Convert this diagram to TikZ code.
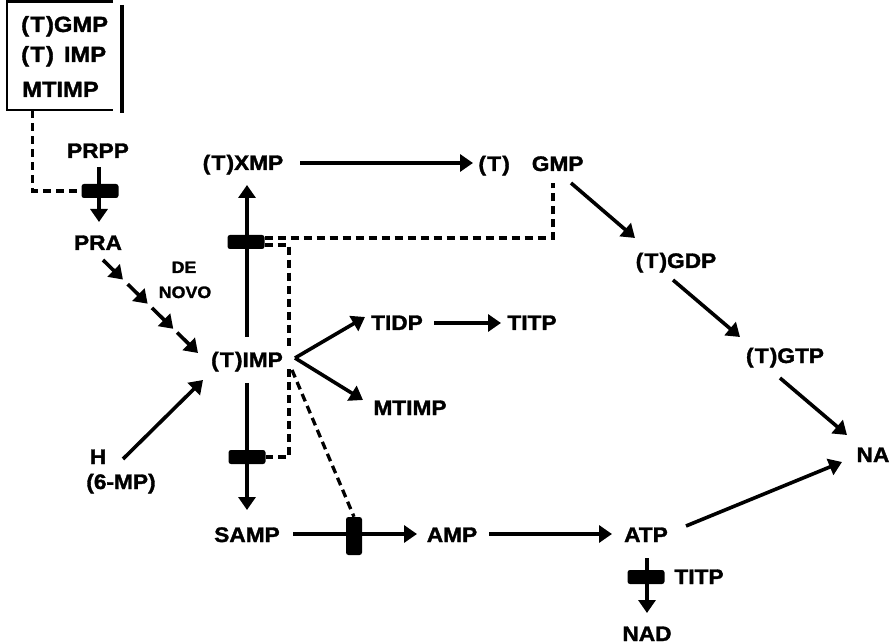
\documentclass[tikz,border=0pt]{standalone}
\usepackage{fontspec}
\newfontfamily\labfont[FakeStretch=1.08,FakeBold=1.6]{Liberation Sans}
\usetikzlibrary{arrows.meta,calc}
\newcommand{\pT}{(\kern1.2pt T\kern1.2pt)}
\begin{document}
\begin{tikzpicture}[x=1pt,y=-1pt,
  lbl/.style={font=\labfont\bfseries\fontsize{21}{25}\selectfont, inner sep=0pt, anchor=base},
  blbl/.style={font=\labfont\bfseries\fontsize{22}{26}\selectfont, inner sep=0pt, anchor=base west},
  slbl/.style={font=\labfont\bfseries\fontsize{16.5}{20}\selectfont, inner sep=0pt, anchor=base},
  arr/.style={line width=3.6pt, -{Triangle[length=13pt,width=17pt]}},
  inh/.style={line width=3.3pt, dash pattern=on 8pt off 5pt},
  blk/.style={fill=black, draw=none, rounded corners=2.5pt, inner sep=0pt, minimum width=37pt, minimum height=14pt},
  vblk/.style={blk, minimum width=16pt, minimum height=38pt}]
\useasboundingbox (0,0) rectangle (892,644);

% box
\node[inner sep=0pt, minimum width=106pt, minimum height=108pt] (box) at (60,56) {};
\draw[line width=2.6pt] (box.north east) -- (box.north west) -- (box.south west) -- (box.south east);
\draw[line width=4.5pt] ($(box.north east)+(9,3)$) -- ($(box.south east)+(9,3)$);
\node[blbl] (b1) at (21,32) {\pT GMP};
\node[blbl] (b2) at (21,62) {\pT\kern10pt IMP};
\node[blbl] (b3) at (22,97) {MTIMP};

% labels
\node[lbl] (PRPP) at (98,158) {PRPP};
\node[lbl] (PRA) at (98,250) {PRA};
\node[slbl] (DE) at (184,273) {DE};
\node[slbl] (NOVO) at (185,298) {NOVO};
\node[lbl] (XMP) at (243,170) {\pT XMP};
\node[lbl] (GMP) at (531,171) {\pT\kern22pt GMP};
\node[lbl] (GDP) at (676,268) {\pT GDP};
\node[lbl] (IMP) at (247,367) {\pT IMP};
\node[lbl] (TIDP) at (397,330) {TIDP};
\node[lbl] (TITP) at (532,330) {TITP};
\node[lbl] (MTIMP) at (410,415) {MTIMP};
\node[lbl] (GTP) at (785,363) {\pT GTP};
\node[lbl] (NA) at (873,462) {NA};
\node[lbl] (H) at (98,464) {H};
\node[lbl] (MP6) at (121,489) {(6-MP)};
\node[lbl] (SAMP) at (247,542) {SAMP};
\node[lbl] (AMP) at (452,542) {AMP};
\node[lbl] (ATP) at (646,542) {ATP};
\node[lbl] (TITP2) at (699,584) {TITP};
\node[lbl] (NAD) at (647,641) {NAD};

% solid connectors through blocks
\draw[arr] ($(PRPP.base)+(1,9)$) -- ($(PRA.base)+(1,-28)$);
\draw[arr] ($(IMP.base)+(0,-30)$) -- ($(XMP.base)+(4,15)$);
\draw[arr] ($(IMP.base)+(0,16)$) -- ($(SAMP.base)+(0,-32)$);
\draw[arr] ($(SAMP.base)+(46,-8)$) -- ($(AMP.base)+(-35,-8)$);
\draw[arr] ($(ATP.base)+(1,16)$) -- ($(NAD.base)+(0,-28)$);

% other connectors
\coordinate (dn0) at ($(PRA.base)+(5,10)$);
\coordinate (dn1) at ($(IMP.base)+(-49,-14)$);
\draw[arr] ($(dn0)!0!(dn1)$) -- ($(dn0)!0.21!(dn1)$);
\draw[arr] ($(dn0)!0.26!(dn1)$) -- ($(dn0)!0.47!(dn1)$);
\draw[arr] ($(dn0)!0.515!(dn1)$) -- ($(dn0)!0.74!(dn1)$);
\draw[arr] ($(dn0)!0.78!(dn1)$) -- ($(dn0)!1!(dn1)$);

\draw[arr] ($(XMP.base)+(57,-7)$) -- ($(GMP.base)+(-58,-8)$);
\draw[arr] ($(GMP.base)+(40,12)$) -- ($(GDP.base)+(-41,-30)$);
\draw[arr] ($(GDP.base)+(-3,12)$) -- ($(GTP.base)+(-45,-26)$);
\draw[arr] ($(GTP.base)+(-5,15)$) -- ($(NA.base)+(-26,-27)$);
\draw[arr] ($(ATP.base)+(40,-16)$) -- ($(NA.base)+(-31,0)$);
\draw[arr] ($(AMP.base)+(37,-8)$) -- ($(ATP.base)+(-34,-8)$);
\draw[arr] ($(IMP.base)+(48,-9)$) -- ($(TIDP.base)+(-32,-13)$);
\draw[arr] ($(IMP.base)+(48,-9)$) -- ($(MTIMP.base)+(-47,-15)$);
\draw[arr] ($(TIDP.base)+(37,-7)$) -- ($(TITP.base)+(-31,-7)$);
\draw[arr] ($(H.base)+(25,-5)$) -- ($(IMP.base)+(-44,13)$);

% blocks
\node[blk] (blkA) at (100,191) {};
\node[blk] (blkB) at (246,242) {};
\node[blk] (blkC) at (247,457) {};
\node[vblk] (blkD) at (354,536) {};
\node[blk] (blkE) at (646,577) {};

% dashed inhibition lines
\draw[inh] ($(box.south west)+(26,0)$) |- (blkA.west);
\draw[inh] ($(blkB.east)+(0,-4)$) -| ($(GMP.base)+(22,12)$);
\draw[inh] ($(blkB.east)+(0,3)$) -| ($(IMP.base)+(42,-20)$);
\draw[inh] ($(IMP.base)+(42,2)$) |- (blkC.east);
\draw[inh] ($(IMP.base)+(45,3)$) -- (blkD.north);
\end{tikzpicture}
\end{document}
